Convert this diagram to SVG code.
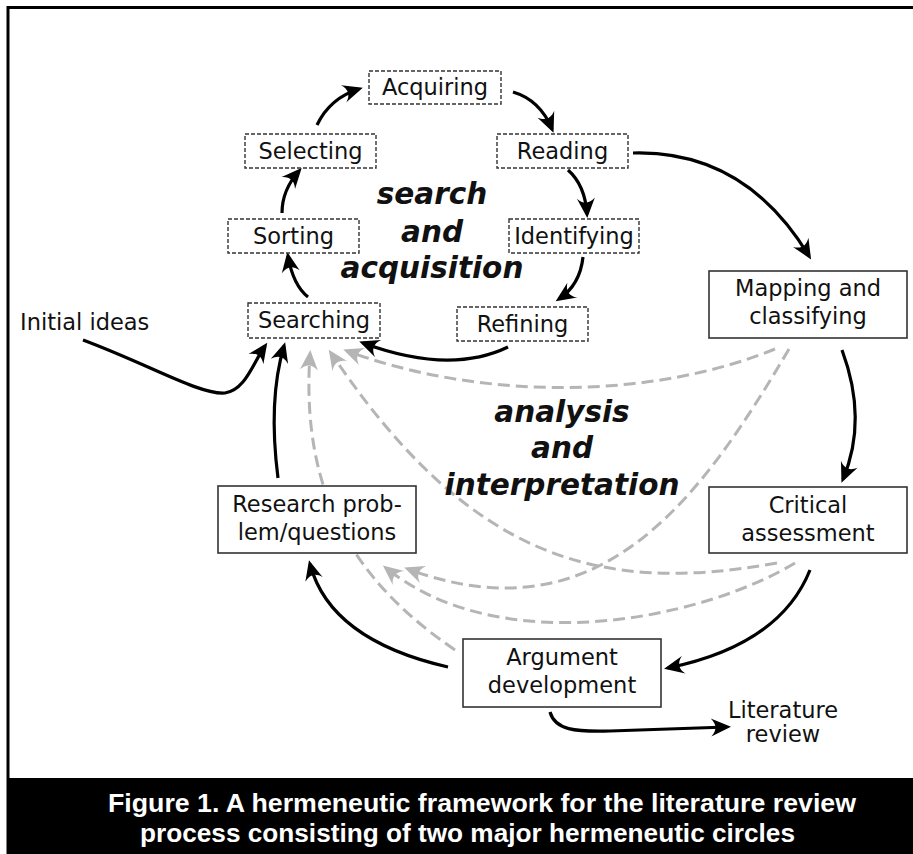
<svg xmlns="http://www.w3.org/2000/svg" width="913" height="854" viewBox="0 0 913 854">
<style>
.dbox{fill:#fff;stroke:#333;stroke-width:1.4;stroke-dasharray:4,2}
.sbox{fill:#fff;stroke:#333;stroke-width:1.6}
.lbl{font-family:"DejaVu Sans",sans-serif;font-size:22.5px;fill:#111;text-anchor:middle}
.big{font-family:"DejaVu Sans",sans-serif;font-size:29.5px;font-weight:bold;font-style:italic;fill:#111;text-anchor:middle}
.blk{fill:none;stroke:#000;stroke-width:3.2;marker-end:url(#ah)}
.gry{fill:none;stroke:#b5b5b5;stroke-width:3;stroke-dasharray:12,6;marker-end:url(#gh)}
.cap{font-family:"Liberation Sans",Arial,sans-serif;font-size:26.5px;font-weight:bold;fill:#fff}
</style>
<defs>
<marker id="ah" viewBox="-18 -10 23 20" refX="0" refY="0" markerWidth="23" markerHeight="20" orient="auto" markerUnits="userSpaceOnUse">
<path d="M4,0 L-16,-9 C-10,-3 -10,3 -16,9 Z" fill="#000"/>
</marker>
<marker id="gh" viewBox="-18 -10 23 20" refX="0" refY="0" markerWidth="23" markerHeight="20" orient="auto" markerUnits="userSpaceOnUse">
<path d="M4,0 L-16,-9 C-10,-3 -10,3 -16,9 Z" fill="#b5b5b5"/>
</marker>
</defs>
<rect width="913" height="854" fill="#fff"/>
<path d="M8,854 V7.5 H913" fill="none" stroke="#000" stroke-width="3"/>
<rect x="7" y="778" width="906" height="76" fill="#000"/>
<text class="cap" x="108" y="812" textLength="748" lengthAdjust="spacingAndGlyphs">Figure 1. A hermeneutic framework for the literature review</text>
<text class="cap" x="140" y="842" textLength="655" lengthAdjust="spacingAndGlyphs">process consisting of two major hermeneutic circles</text>

<g id="connectors">
<path class="gry" d="M455,650 C360,585 300,500 310,354"/>
<path class="gry" d="M777,563 C600,595 470,560 331,353"/>
<path class="gry" d="M775,349 C650,400 480,400 347,351"/>
<path class="gry" d="M789,349 C700,500 600,640 408,569"/>
<path class="gry" d="M795,563 C700,620 500,660 386,568"/>
<path class="blk" d="M317,125 Q330,98 359,89"/>
<path class="blk" d="M513,92 Q540,100 552,129"/>
<path class="blk" d="M568,170 Q585,185 587,214"/>
<path class="blk" d="M583,257 Q580,285 559,299"/>
<path class="blk" d="M508,347 Q450,375 363,343"/>
<path class="blk" d="M308,297 Q293,285 288,256"/>
<path class="blk" d="M282,213 Q282,190 299,171"/>
<path class="blk" d="M633,153 Q745,150 809,256"/>
<path class="blk" d="M842,350 Q868,420 843,479"/>
<path class="blk" d="M810,570 Q780,645 668,668"/>
<path class="blk" d="M448,667 Q330,640 310,564"/>
<path class="blk" d="M278,478 Q268,400 284,346"/>
<path class="blk" d="M83,340 C150,365 200,395 225,393 C245,390 252,365 265,346"/>
<path class="blk" d="M550,712 C555,730 575,732 610,731 L727,727"/>
</g>

<g id="acquiring"><rect class="dbox" x="369" y="71" width="132" height="33"/><text class="lbl" x="435" y="95">Acquiring</text></g>
<g id="selecting"><rect class="dbox" x="245" y="134" width="131" height="34"/><text class="lbl" x="310.5" y="159">Selecting</text></g>
<g id="reading"><rect class="dbox" x="497" y="134" width="131" height="34"/><text class="lbl" x="562.5" y="159">Reading</text></g>
<g id="sorting"><rect class="dbox" x="228" y="219" width="131" height="34"/><text class="lbl" x="293.5" y="244">Sorting</text></g>
<g id="identifying"><rect class="dbox" x="509" y="219" width="130" height="34"/><text class="lbl" x="574" y="244">Identifying</text></g>
<g id="searching"><rect class="dbox" x="248" y="303" width="132" height="35"/><text class="lbl" x="314" y="328">Searching</text></g>
<g id="refining"><rect class="dbox" x="457" y="307" width="131" height="34"/><text class="lbl" x="522.5" y="332">Refining</text></g>
<g id="mapping"><rect class="sbox" x="709" y="271" width="198" height="67"/><text class="lbl" x="808" y="296">Mapping and</text><text class="lbl" x="808" y="324">classifying</text></g>
<g id="critical"><rect class="sbox" x="709" y="487" width="198" height="66"/><text class="lbl" x="808" y="513">Critical</text><text class="lbl" x="808" y="541">assessment</text></g>
<g id="research"><rect class="sbox" x="218" y="486" width="198" height="67"/><text class="lbl" x="317" y="512">Research prob-</text><text class="lbl" x="317" y="540">lem/questions</text></g>
<g id="argument"><rect class="sbox" x="463" y="639" width="198" height="68"/><text class="lbl" x="562" y="665">Argument</text><text class="lbl" x="562" y="693">development</text></g>
<g id="initial-ideas"><text class="lbl" x="20" y="330" style="text-anchor:start">Initial ideas</text></g>
<g id="literature-review"><text class="lbl" x="783" y="718">Literature</text><text class="lbl" x="783" y="742">review</text></g>
<g id="search-label"><text class="big" x="432" y="204">search</text><text class="big" x="432" y="242">and</text><text class="big" x="432" y="278">acquisition</text></g>
<g id="analysis-label"><text class="big" x="562" y="422">analysis</text><text class="big" x="562" y="458">and</text><text class="big" x="562" y="495">interpretation</text></g>
</svg>
